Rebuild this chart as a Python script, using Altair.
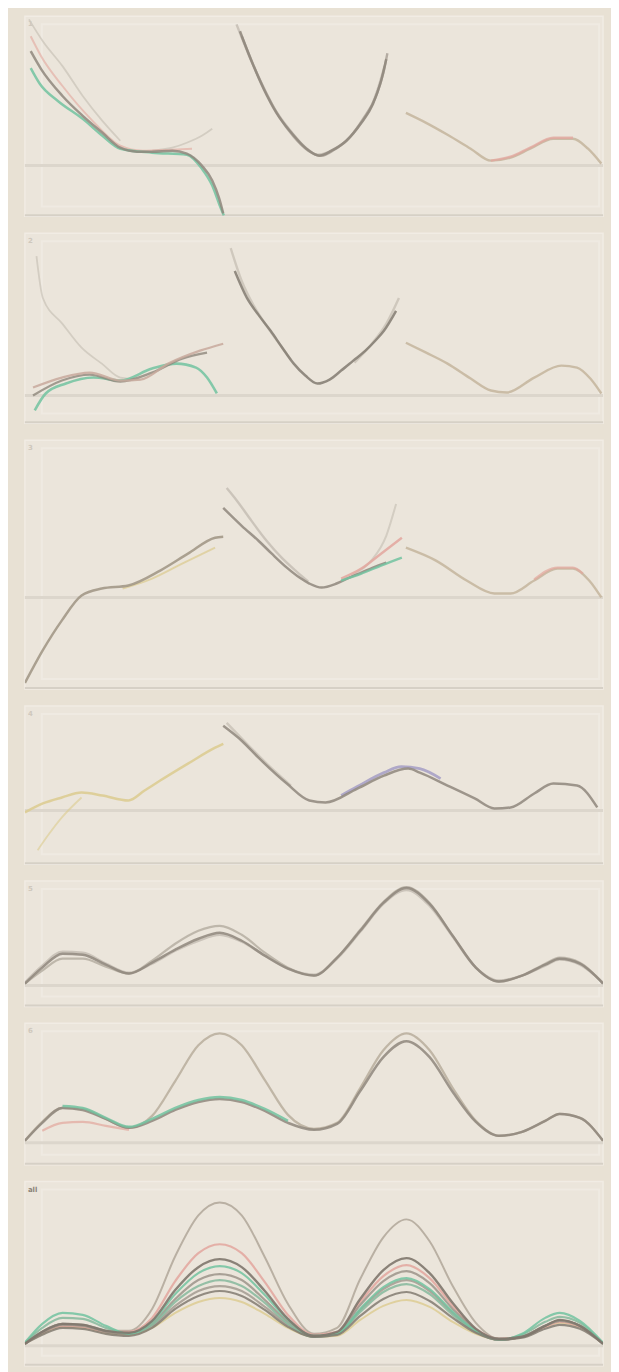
import altair as alt
import pandas as pd

W = 581

# ---------------- colours ----------------
GRAY = "#8f877c"
DGRAY = "#837b71"
LGRAY = "#c3bcb1"
TAN = "#c4b59c"
GREEN = "#72c3a0"
PINK = "#e3a69d"
YELLOW = "#dccb8e"
PURPLE = "#a49dc4"

# ---------------- panel 1 ----------------
P1_A_T = [0.01, 0.028, 0.065, 0.10, 0.134, 0.165, 0.194, 0.22, 0.255, 0.28, 0.306, 0.324, 0.336, 0.343]
P1_A_F = [1.15, 0.97, 0.70, 0.50, 0.33, 0.18, 0.14, 0.14, 0.15, 0.12, 0.0, -0.15, -0.33, -0.48]
P1_B_T = [0.01, 0.026, 0.057, 0.10, 0.134, 0.165, 0.22, 0.28, 0.306, 0.324, 0.337, 0.344]
P1_B_F = [0.98, 0.82, 0.65, 0.47, 0.30, 0.17, 0.13, 0.11, -0.03, -0.2, -0.4, -0.5]
P1_C_T = [0.01, 0.028, 0.065, 0.117, 0.165, 0.203, 0.255, 0.289]
P1_C_F = [1.3, 1.10, 0.80, 0.45, 0.20, 0.15, 0.16, 0.17]
P1_D_T = [0.007, 0.031, 0.065, 0.10, 0.134, 0.165]
P1_D_F = [1.47, 1.25, 1.0, 0.70, 0.45, 0.25]
P1_E_T = [0.22, 0.255, 0.28, 0.306, 0.324]
P1_E_F = [0.15, 0.18, 0.23, 0.30, 0.37]
P1_M_T = [0.372, 0.392, 0.413, 0.435, 0.461, 0.487, 0.509, 0.530, 0.556, 0.582, 0.602, 0.616, 0.625]
P1_M_F = [1.35, 1.05, 0.77, 0.53, 0.33, 0.17, 0.10, 0.15, 0.25, 0.43, 0.62, 0.85, 1.07]
P1_N_T = [0.375, 0.396, 0.418, 0.44, 0.465, 0.49, 0.513, 0.535, 0.561, 0.585, 0.606, 0.62, 0.627]
P1_N_F = [1.30, 1.0, 0.72, 0.49, 0.29, 0.15, 0.10, 0.16, 0.28, 0.47, 0.68, 0.93, 1.13]
P1_O_T = [0.366, 0.388, 0.41, 0.432, 0.458, 0.484, 0.506, 0.528, 0.553, 0.578, 0.598, 0.612, 0.622]
P1_O_F = [1.42, 1.10, 0.82, 0.57, 0.36, 0.19, 0.11, 0.14, 0.23, 0.40, 0.58, 0.80, 1.00]
P1_S_T = [0.659, 0.694, 0.731, 0.771, 0.806, 0.840, 0.874, 0.914, 0.948, 0.974, 0.997]
P1_S_F = [0.53, 0.43, 0.31, 0.17, 0.05, 0.08, 0.17, 0.27, 0.27, 0.17, 0.02]
P1_SP_T = [0.806, 0.840, 0.874, 0.914, 0.948]
P1_SP_F = [0.05, 0.09, 0.18, 0.28, 0.28]

# ---------------- panel 2 ----------------
P2_P_T = [0.014, 0.064, 0.112, 0.166, 0.2, 0.248, 0.303, 0.343]
P2_P_F = [0.08, 0.18, 0.23, 0.15, 0.16, 0.32, 0.45, 0.52]
P2_G_T = [0.017, 0.036, 0.071, 0.119, 0.165, 0.22, 0.262, 0.296, 0.315, 0.332]
P2_G_F = [-0.15, 0.02, 0.12, 0.18, 0.15, 0.27, 0.32, 0.28, 0.18, 0.02]
P2_F_T = [0.02, 0.031, 0.065, 0.098, 0.133, 0.165, 0.2]
P2_F_F = [1.40, 0.98, 0.72, 0.48, 0.32, 0.18, 0.16]
P2_Q_T = [0.014, 0.064, 0.112, 0.165, 0.22, 0.272, 0.315]
P2_Q_F = [0.0, 0.15, 0.21, 0.14, 0.23, 0.37, 0.43]
P2_M_T = [0.363, 0.384, 0.404, 0.425, 0.444, 0.465, 0.485, 0.506, 0.527, 0.547, 0.568, 0.589, 0.606, 0.621, 0.642]
P2_M_F = [1.25, 0.98, 0.81, 0.65, 0.49, 0.32, 0.20, 0.12, 0.16, 0.25, 0.35, 0.45, 0.55, 0.65, 0.85]
P2_L_T = [0.356, 0.375, 0.396, 0.418, 0.44, 0.46]
P2_L_F = [1.48, 1.15, 0.90, 0.70, 0.52, 0.36]
P2_R_T = [0.57, 0.6, 0.625, 0.647]
P2_R_F = [0.33, 0.52, 0.72, 0.98]
P2_S_T = [0.659, 0.694, 0.731, 0.771, 0.806, 0.833, 0.881, 0.928, 0.955, 0.978, 0.997]
P2_S_F = [0.53, 0.43, 0.32, 0.17, 0.05, 0.03, 0.18, 0.30, 0.28, 0.17, 0.02]

# ---------------- panel 3 ----------------
P3_A_T = [0, 0.031, 0.064, 0.098, 0.133, 0.179, 0.234, 0.282, 0.329, 0.343]
P3_A_F = [-0.86, -0.53, -0.23, 0.02, 0.09, 0.12, 0.27, 0.44, 0.60, 0.61]
P3_B_T = [0.169, 0.22, 0.272, 0.329]
P3_B_F = [0.09, 0.19, 0.34, 0.50]
P3_M_T = [0.343, 0.375, 0.404, 0.427, 0.453, 0.475, 0.492, 0.513, 0.539, 0.561, 0.582, 0.602, 0.625]
P3_M_F = [0.90, 0.72, 0.57, 0.44, 0.30, 0.20, 0.14, 0.10, 0.14, 0.20, 0.25, 0.30, 0.35]
P3_U_T = [0.349, 0.367, 0.392, 0.418, 0.444, 0.47, 0.49]
P3_U_F = [1.10, 0.97, 0.77, 0.57, 0.40, 0.26, 0.16]
P3_G_T = [0.547, 0.582, 0.616, 0.652]
P3_G_F = [0.17, 0.24, 0.32, 0.40]
P3_P_T = [0.547, 0.582, 0.616, 0.652]
P3_P_F = [0.19, 0.29, 0.44, 0.60]
P3_V_T = [0.565, 0.599, 0.625, 0.642]
P3_V_F = [0.22, 0.37, 0.62, 0.94]
P3_S_T = [0.659, 0.711, 0.764, 0.812, 0.84, 0.881, 0.921, 0.948, 0.976, 0.997]
P3_S_F = [0.50, 0.37, 0.17, 0.04, 0.04, 0.17, 0.29, 0.29, 0.17, 0.0]
P3_SP_T = [0.881, 0.921, 0.948, 0.965]
P3_SP_F = [0.18, 0.30, 0.30, 0.24]

# ---------------- panel 4 ----------------
P4_Y_T = [0, 0.031, 0.064, 0.098, 0.134, 0.179, 0.207, 0.234, 0.282, 0.329, 0.343]
P4_Y_F = [-0.02, 0.07, 0.13, 0.18, 0.15, 0.10, 0.20, 0.30, 0.47, 0.63, 0.67]
P4_F_T = [0.022, 0.04, 0.064, 0.098]
P4_F_F = [-0.40, -0.25, -0.07, 0.13]
P4_M_T = [0.343, 0.375, 0.404, 0.453, 0.492, 0.52, 0.575, 0.621, 0.663, 0.683, 0.731, 0.778, 0.812, 0.84, 0.881, 0.914, 0.955, 0.99]
P4_M_F = [0.85, 0.70, 0.53, 0.27, 0.10, 0.08, 0.22, 0.35, 0.42, 0.38, 0.25, 0.12, 0.02, 0.03, 0.17, 0.27, 0.25, 0.03]
P4_P_T = [0.547, 0.575, 0.621, 0.651, 0.683, 0.719]
P4_P_F = [0.15, 0.24, 0.38, 0.44, 0.42, 0.32]
P4_L_T = [0.349, 0.384, 0.42, 0.46]
P4_L_F = [0.88, 0.67, 0.46, 0.25]

# ---------------- panels 5-7 (shared grid) ----------------
T_GRID = [0, 0.03, 0.065, 0.1, 0.14, 0.18, 0.22, 0.26, 0.3, 0.337, 0.375, 0.415, 0.455,
          0.5, 0.54, 0.58, 0.62, 0.66, 0.7, 0.74, 0.78, 0.82, 0.86, 0.9, 0.925, 0.96, 1.0]

P5_A = [0.02, 0.18, 0.32, 0.31, 0.21, 0.12, 0.23, 0.36, 0.47, 0.53, 0.45, 0.30, 0.17, 0.10, 0.28, 0.55, 0.83, 0.98, 0.82, 0.50, 0.18, 0.04, 0.10, 0.21, 0.27, 0.22, 0.02]
P5_B = [0.02, 0.15, 0.27, 0.27, 0.19, 0.12, 0.25, 0.42, 0.55, 0.60, 0.51, 0.33, 0.18, 0.10, 0.28, 0.56, 0.84, 0.99, 0.83, 0.50, 0.18, 0.04, 0.10, 0.22, 0.28, 0.23, 0.02]
P5_C = [0.03, 0.20, 0.34, 0.33, 0.22, 0.13, 0.22, 0.35, 0.45, 0.51, 0.44, 0.30, 0.17, 0.11, 0.27, 0.54, 0.82, 0.96, 0.80, 0.49, 0.18, 0.05, 0.10, 0.20, 0.26, 0.21, 0.03]

P6_TALL = [0.02, 0.21, 0.35, 0.34, 0.24, 0.15, 0.27, 0.62, 0.98, 1.10, 0.98, 0.63, 0.28, 0.14, 0.20, 0.55, 0.93, 1.10, 0.93, 0.55, 0.22, 0.07, 0.11, 0.22, 0.29, 0.25, 0.02]
P6_LOW = [0.02, 0.20, 0.35, 0.33, 0.24, 0.15, 0.22, 0.33, 0.41, 0.44, 0.41, 0.32, 0.20, 0.13, 0.19, 0.52, 0.86, 1.02, 0.86, 0.51, 0.21, 0.07, 0.11, 0.22, 0.29, 0.25, 0.02]
P6_G_T = [0.065, 0.1, 0.14, 0.18, 0.22, 0.26, 0.3, 0.337, 0.375, 0.415, 0.455]
P6_G_F = [0.37, 0.35, 0.25, 0.16, 0.24, 0.35, 0.43, 0.46, 0.43, 0.34, 0.22]
P6_P_T = [0.03, 0.065, 0.1, 0.14, 0.18]
P6_P_F = [0.12, 0.20, 0.21, 0.17, 0.13]

P7_L1 = [0.02, 0.14, 0.22, 0.21, 0.15, 0.15, 0.37, 0.90, 1.31, 1.44, 1.31, 0.89, 0.42, 0.12, 0.18, 0.67, 1.09, 1.27, 1.05, 0.60, 0.23, 0.07, 0.09, 0.20, 0.25, 0.20, 0.02]
P7_L2 = [0.02, 0.13, 0.20, 0.19, 0.14, 0.14, 0.28, 0.65, 0.93, 1.02, 0.93, 0.64, 0.31, 0.11, 0.14, 0.44, 0.70, 0.81, 0.68, 0.40, 0.17, 0.07, 0.09, 0.19, 0.24, 0.19, 0.02]
P7_L3 = [0.02, 0.14, 0.22, 0.21, 0.15, 0.13, 0.25, 0.56, 0.79, 0.87, 0.79, 0.55, 0.27, 0.10, 0.14, 0.47, 0.76, 0.88, 0.73, 0.43, 0.17, 0.07, 0.09, 0.20, 0.26, 0.20, 0.02]
P7_L4 = [0.03, 0.22, 0.33, 0.31, 0.20, 0.12, 0.24, 0.52, 0.73, 0.80, 0.73, 0.51, 0.26, 0.10, 0.12, 0.37, 0.59, 0.68, 0.57, 0.34, 0.15, 0.06, 0.12, 0.28, 0.33, 0.25, 0.03]
P7_L5 = [0.02, 0.13, 0.21, 0.20, 0.14, 0.12, 0.22, 0.47, 0.66, 0.72, 0.66, 0.46, 0.24, 0.09, 0.13, 0.41, 0.65, 0.75, 0.63, 0.37, 0.16, 0.06, 0.09, 0.20, 0.25, 0.20, 0.02]
P7_L6 = [0.03, 0.18, 0.28, 0.27, 0.18, 0.12, 0.21, 0.44, 0.60, 0.66, 0.60, 0.43, 0.22, 0.09, 0.12, 0.34, 0.54, 0.62, 0.52, 0.31, 0.14, 0.06, 0.11, 0.24, 0.29, 0.23, 0.02]
P7_L7 = [0.02, 0.14, 0.22, 0.21, 0.15, 0.12, 0.20, 0.40, 0.55, 0.60, 0.55, 0.39, 0.21, 0.09, 0.12, 0.36, 0.57, 0.66, 0.55, 0.33, 0.14, 0.06, 0.09, 0.20, 0.25, 0.20, 0.02]
P7_L8 = [0.02, 0.11, 0.18, 0.17, 0.12, 0.10, 0.18, 0.37, 0.50, 0.55, 0.50, 0.36, 0.19, 0.09, 0.11, 0.30, 0.47, 0.54, 0.45, 0.28, 0.13, 0.06, 0.08, 0.17, 0.21, 0.17, 0.02]
P7_L9 = [0.02, 0.12, 0.19, 0.18, 0.13, 0.11, 0.18, 0.33, 0.44, 0.48, 0.44, 0.32, 0.18, 0.09, 0.10, 0.26, 0.40, 0.46, 0.39, 0.24, 0.12, 0.06, 0.09, 0.19, 0.23, 0.19, 0.02]

LABELS = ["1", "2", "3", "4", "5", "6", "all"]

# (t values, f values, colour, stroke width, opacity) in drawing order
PANELS = [
    dict(h=201, ymin=-0.51, ymax=1.50, label=LABELS[0], series=[
        (P1_D_T, P1_D_F, LGRAY, 1.8, 0.6), (P1_E_T, P1_E_F, LGRAY, 1.8, 0.6),
        (P1_C_T, P1_C_F, PINK, 2.0, 0.6), (P1_B_T, P1_B_F, GREEN, 2.5, 0.85),
        (P1_A_T, P1_A_F, GRAY, 2.5, 0.85),
        (P1_O_T, P1_O_F, LGRAY, 2.4, 0.8), (P1_N_T, P1_N_F, "#a69e93", 2.4, 0.8),
        (P1_M_T, P1_M_F, GRAY, 2.5, 0.85),
        (P1_S_T, P1_S_F, TAN, 2.4, 0.85), (P1_SP_T, P1_SP_F, PINK, 2.4, 0.75)]),
    dict(h=191, ymin=-0.28, ymax=1.63, label=LABELS[1], series=[
        (P2_F_T, P2_F_F, LGRAY, 1.8, 0.6), (P2_G_T, P2_G_F, GREEN, 2.6, 0.85),
        (P2_Q_T, P2_Q_F, GRAY, 2.3, 0.8), (P2_P_T, P2_P_F, "#c8a99c", 2.3, 0.85),
        (P2_L_T, P2_L_F, LGRAY, 2.4, 0.7), (P2_R_T, P2_R_F, LGRAY, 2.4, 0.7),
        (P2_M_T, P2_M_F, DGRAY, 2.5, 0.85),
        (P2_S_T, P2_S_F, TAN, 2.4, 0.85)]),
    dict(h=250, ymin=-0.92, ymax=1.58, label=LABELS[2], series=[
        (P3_B_T, P3_B_F, YELLOW, 2.0, 0.7), (P3_A_T, P3_A_F, "#9f9483", 2.5, 0.85),
        (P3_V_T, P3_V_F, LGRAY, 2.0, 0.6), (P3_U_T, P3_U_F, LGRAY, 2.4, 0.8),
        (P3_M_T, P3_M_F, GRAY, 2.5, 0.85),
        (P3_P_T, P3_P_F, PINK, 2.4, 0.85), (P3_G_T, P3_G_F, GREEN, 2.4, 0.85),
        (P3_S_T, P3_S_F, TAN, 2.4, 0.85), (P3_SP_T, P3_SP_F, PINK, 2.4, 0.7)]),
    dict(h=159, ymin=-0.54, ymax=1.05, label=LABELS[3], series=[
        (P4_F_T, P4_F_F, YELLOW, 1.8, 0.6), (P4_Y_T, P4_Y_F, YELLOW, 2.5, 0.85),
        (P4_L_T, P4_L_F, LGRAY, 2.4, 0.7), (P4_P_T, P4_P_F, PURPLE, 2.8, 0.85),
        (P4_M_T, P4_M_F, GRAY, 2.5, 0.85)]),
    dict(h=126, ymin=-0.21, ymax=1.05, label=LABELS[4], series=[
        (T_GRID, P5_C, LGRAY, 2.4, 0.8), (T_GRID, P5_B, "#b3ab9f", 2.2, 0.8),
        (T_GRID, P5_A, GRAY, 2.5, 0.85)]),
    dict(h=142, ymin=-0.22, ymax=1.20, label=LABELS[5], series=[
        (P6_P_T, P6_P_F, PINK, 2.2, 0.7), (T_GRID, P6_TALL, "#b9ae9c", 2.3, 0.85),
        (T_GRID, P6_LOW, GRAY, 2.5, 0.85), (P6_G_T, P6_G_F, GREEN, 2.5, 0.85)]),
    dict(h=185, ymin=-0.20, ymax=1.65, label=LABELS[6], series=[
        (T_GRID, P7_L9, YELLOW, 2.0, 0.8), (T_GRID, P7_L1, "#b4aa9c", 2.0, 0.9),
        (T_GRID, P7_L2, PINK, 2.2, 0.85), (T_GRID, P7_L7, "#a39b90", 2.2, 0.85),
        (T_GRID, P7_L5, "#9c948a", 2.2, 0.85), (T_GRID, P7_L6, "#86b89c", 2.2, 0.85),
        (T_GRID, P7_L4, GREEN, 2.2, 0.85), (T_GRID, P7_L8, DGRAY, 2.2, 0.85),
        (T_GRID, P7_L3, "#7f776d", 2.4, 0.9)]),
]

X = alt.X("t:Q", scale=alt.Scale(domain=[0, 1], nice=False, zero=False), axis=None)


def make_panel(p, dark_label=False):
    h = p["h"]
    Y = alt.Y("f:Q", scale=alt.Scale(domain=[p["ymin"], p["ymax"]], nice=False, zero=False), axis=None)
    dummy = pd.DataFrame({"t": [0.0], "f": [0.0]})
    layers = []
    # inner faint frame
    layers.append(alt.Chart(dummy).mark_rect(fill=None, stroke="#efeae2", strokeWidth=2).encode(
        x=alt.value(17), x2=alt.value(W - 4), y=alt.value(8), y2=alt.value(h - 10)))
    # bottom rule
    layers.append(alt.Chart(dummy).mark_rule(color="#d6d0c6", strokeWidth=2).encode(
        x=alt.value(0), x2=alt.value(W), y=alt.value(h - 1)))
    # zero line
    layers.append(alt.Chart(dummy).mark_rule(color="#dcd6cc", strokeWidth=3).encode(
        x=alt.value(0), x2=alt.value(W), y=Y))
    for (ts, fs, col, sw, op) in p["series"]:
        df = pd.DataFrame({"t": ts, "f": fs})
        layers.append(alt.Chart(df).mark_line(color=col, strokeWidth=sw, opacity=op,
                                              interpolate="monotone", clip=True).encode(x=X, y=Y))
    layers.append(alt.Chart(pd.DataFrame({"lab": [p["label"]]})).mark_text(
        align="left", baseline="top", fontSize=7, font="DejaVu Sans",
        fontWeight="bold", color="#8a8278" if dark_label else "#cfc8bd").encode(
        x=alt.value(3), y=alt.value(4), text="lab:N"))
    return alt.layer(*layers).properties(width=W, height=h)


panels = [make_panel(p, dark_label=(i == 6)) for i, p in enumerate(PANELS)]

chart = alt.vconcat(*panels, spacing=15).properties(
    padding={"left": 14, "top": 4, "right": 5, "bottom": 5}
).configure(background="#e8e1d4").configure_view(fill="#ebe5db", stroke="#f1ece4", strokeWidth=1.5)

chart.save("out.html", embed_options={"renderer": "svg", "actions": False})
